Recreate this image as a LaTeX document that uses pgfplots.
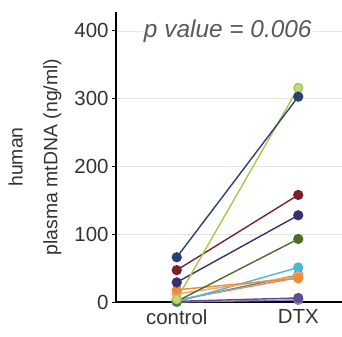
\documentclass[border=0pt]{standalone}
\usepackage{fontspec}
\setmainfont{Liberation Sans}
\usepackage{pgfplots}
\pgfplotsset{compat=1.18}
\definecolor{cnavy}{HTML}{2A3F72}
\definecolor{cgreen}{HTML}{A9C84A}
\definecolor{cred}{HTML}{7A1F2B}
\definecolor{cpurple}{HTML}{3B2E6B}
\definecolor{colive}{HTML}{4F6B26}
\definecolor{ccyan}{HTML}{4CB5DE}
\definecolor{corange}{HTML}{EF8A3C}
\definecolor{ctan}{HTML}{F4A860}
\definecolor{csalmon}{HTML}{E9876F}
\definecolor{cviolet}{HTML}{5E4D8F}
\definecolor{clav}{HTML}{8A7FB8}
\definecolor{cteal}{HTML}{3A9A9A}
\definecolor{txt}{HTML}{333333}
\begin{document}
\begin{tikzpicture}
\begin{axis}[
  at={(0,0)}, anchor=south west,
  scale only axis, width=226bp, height=290bp,
  xmin=-0.5, xmax=1.36, ymin=0, ymax=428,
  axis x line=bottom, axis y line=left,
  axis line style={-, line width=1.6pt, black},
  xtick={0,1}, xticklabels={control,DTX},
  ytick={0,100,200,300,400},
  x tick style={draw=none},
  y tick style={line width=1pt, black},
  tick align=outside, major tick length=4bp,
  ymajorgrids, grid style={line width=0.9pt, color=black!10},
  font=\fontsize{20.5}{24}\selectfont,
  tick label style={text=txt},
  /pgf/number format/assume math mode=true,
  ylabel={human\\plasma mtDNA (ng/ml)},
  ylabel style={align=center, text=txt, font=\fontsize{19.5}{35}\selectfont,
    at={(axis description cs:0,0.5)}, anchor=center, yshift=81bp},
  every axis plot/.append style={line width=1.4pt, mark=*, mark size=4.4bp},
  clip=false,
]
\addplot[clav, mark options={fill=clav}] coordinates {(0,0) (1,3)};
\addplot[cviolet, mark options={fill=cviolet}] coordinates {(0,1) (1,6)};
\addplot[cteal, mark options={fill=cteal}] coordinates {(0,2) (1,40)};
\addplot[csalmon, mark options={fill=csalmon}] coordinates {(0,3) (1,36)};
\addplot[ccyan, mark options={fill=ccyan}] coordinates {(0,0) (1,51)};
\addplot[ctan, mark options={fill=ctan}] coordinates {(0,12) (1,38)};
\addplot[corange, mark options={fill=corange}] coordinates {(0,18) (1,35)};
\addplot[colive, mark options={fill=colive}] coordinates {(0,1) (1,93)};
\addplot[cpurple, mark options={fill=cpurple}] coordinates {(0,29) (1,128)};
\addplot[cred, mark options={fill=cred}] coordinates {(0,47) (1,158)};
\addplot[cgreen, mark options={fill=cgreen!70!white}] coordinates {(0,4) (1,316)};
\addplot[cnavy, mark options={fill=cnavy}] coordinates {(0,66) (1,303)};
\node[fill=white, inner sep=1bp, text=black!65, font=\fontsize{24.5}{28}\selectfont\itshape] at (axis cs:0.42,400) {p value = 0.006};
\end{axis}
\pgfresetboundingbox
\path[use as bounding box] (-116bp,-35bp) rectangle (226bp,302bp);
\end{tikzpicture}
\end{document}
